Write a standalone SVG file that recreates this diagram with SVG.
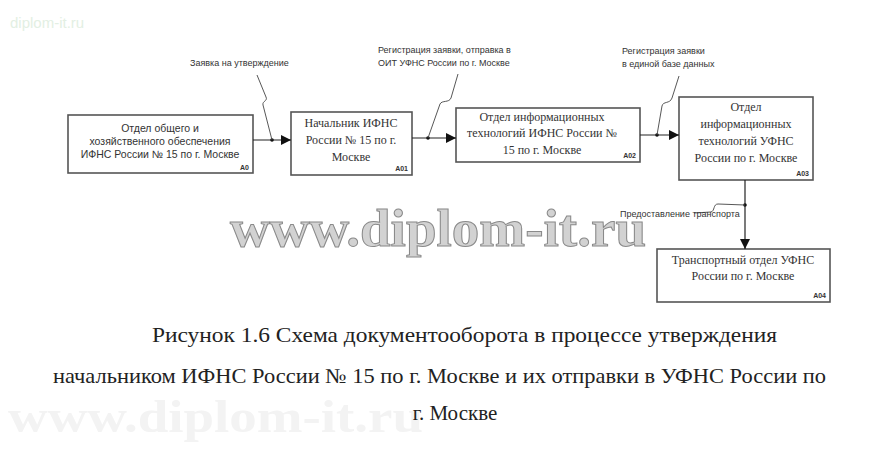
<svg xmlns="http://www.w3.org/2000/svg" width="881" height="460" viewBox="0 0 881 460">
<defs>
<marker id="arr" viewBox="0 0 10 10" refX="10" refY="5" markerWidth="10" markerHeight="10" markerUnits="userSpaceOnUse" orient="auto">
<path d="M0,0 L10,5 L0,10 Z" fill="#111"/>
</marker>
<style>
.box{fill:#fff;stroke:#555;stroke-width:1.6}
.serif{font-family:"Liberation Serif","DejaVu Serif",serif;font-size:12px;fill:#333;text-anchor:middle}
.sans{font-family:"Liberation Sans",Arial,sans-serif;font-size:10.5px;fill:#333;text-anchor:middle}
.id{font-family:"Liberation Sans",Arial,sans-serif;font-size:7px;font-weight:bold;fill:#333;text-anchor:end}
.lbl{font-family:"Liberation Sans",Arial,sans-serif;font-size:9px;fill:#333}
.line{fill:none;stroke:#222;stroke-width:1.2}
.sq{fill:none;stroke:#444;stroke-width:0.9}
.cap{font-family:"Liberation Serif","DejaVu Serif",serif;font-size:21px;fill:#222}
</style>
</defs>
<rect width="881" height="460" fill="#fff"/>
<text x="10" y="28" font-family="'Liberation Sans',Arial,sans-serif" font-size="15" fill="#e3efe3">diplom-it.ru</text>
<text x="8" y="432" font-family="'Liberation Serif','DejaVu Serif',serif" font-size="46" font-weight="bold" fill="#f3f3f3" textLength="415" lengthAdjust="spacingAndGlyphs">www.diplom-it.ru</text>

<g id="A0">
<rect class="box" x="68" y="115" width="185" height="58"/>
<text class="sans" x="160" y="132">Отдел общего и</text>
<text class="sans" x="160" y="145">хозяйственного обеспечения</text>
<text class="sans" x="160" y="158">ИФНС России № 15 по г. Москве</text>
<text class="id" x="249" y="170">A0</text>
</g>
<g id="A01">
<rect class="box" x="291" y="112" width="121" height="63"/>
<text class="serif" x="351" y="127">Начальник ИФНС</text>
<text class="serif" x="351" y="144">России № 15 по г.</text>
<text class="serif" x="351" y="161">Москве</text>
<text class="id" x="408" y="171">A01</text>
</g>
<g id="A02">
<rect class="box" x="456" y="108" width="184" height="54"/>
<text class="serif" x="542" y="121">Отдел информационных</text>
<text class="serif" x="542" y="137">технологий ИФНС России №</text>
<text class="serif" x="542" y="154">15 по г. Москве</text>
<text class="id" x="636" y="158">A02</text>
</g>
<g id="A03">
<rect class="box" x="679" y="97" width="134" height="83"/>
<text class="serif" x="746" y="111">Отдел</text>
<text class="serif" x="746" y="128">информационных</text>
<text class="serif" x="746" y="145">технологий УФНС</text>
<text class="serif" x="746" y="162">России по г. Москве</text>
<text class="id" x="809" y="176">A03</text>
</g>
<g id="A04">
<rect class="box" x="657" y="249" width="173" height="53"/>
<text class="serif" x="743" y="264">Транспортный отдел УФНС</text>
<text class="serif" x="743" y="280">России по г. Москве</text>
<text class="id" x="826" y="298">A04</text>
</g>

<g id="connectors">
<line class="line" x1="253" y1="140" x2="291" y2="140" marker-end="url(#arr)"/>
<circle cx="272" cy="140" r="1.8" fill="#111"/>
<path class="sq" d="M257,75 L266,97 C268,101 262,101 263,105 L272,140"/>
<text class="lbl" x="190" y="66">Заявка на утверждение</text>

<line class="line" x1="412" y1="138" x2="456" y2="138" marker-end="url(#arr)"/>
<circle cx="428" cy="138" r="1.8" fill="#111"/>
<path class="sq" d="M458,74 L451,98 C449,103 442,100 440,104 L428,138"/>
<text class="lbl" x="378" y="53">Регистрация заявки, отправка в</text>
<text class="lbl" x="378" y="66">ОИТ УФНС России по г. Москве</text>

<line class="line" x1="640" y1="135" x2="679" y2="135" marker-end="url(#arr)"/>
<circle cx="657" cy="135" r="1.8" fill="#111"/>
<path class="sq" d="M679,76 L672,98 C670,104 663,101 662,106 L657,135"/>
<text class="lbl" x="622" y="54">Регистрация заявки</text>
<text class="lbl" x="622" y="67">в единой базе данных</text>

<line class="line" x1="745" y1="180" x2="745" y2="249" marker-end="url(#arr)"/>
<circle cx="745" cy="205" r="1.8" fill="#111"/>
<path class="sq" d="M694,213 L711,212 C715,211 713,204 718,204 L745,205"/>
<text class="lbl" x="620" y="217">Предоставление транспорта</text>
</g>

<text x="230" y="246" font-family="'Liberation Serif','DejaVu Serif',serif" font-size="52" font-weight="bold" fill="#d2d2d2" stroke="#8a8a8a" stroke-width="1" textLength="416" lengthAdjust="spacingAndGlyphs">www.diplom-it.ru</text>

<text class="cap" x="152" y="342" textLength="625" lengthAdjust="spacingAndGlyphs">Рисунок 1.6  Схема документооборота в процессе утверждения</text>
<text class="cap" x="53" y="383" textLength="773" lengthAdjust="spacingAndGlyphs">начальником ИФНС России № 15 по г. Москве и их отправки в УФНС России по</text>
<text class="cap" x="455" y="420" text-anchor="middle">г. Москве</text>
</svg>
